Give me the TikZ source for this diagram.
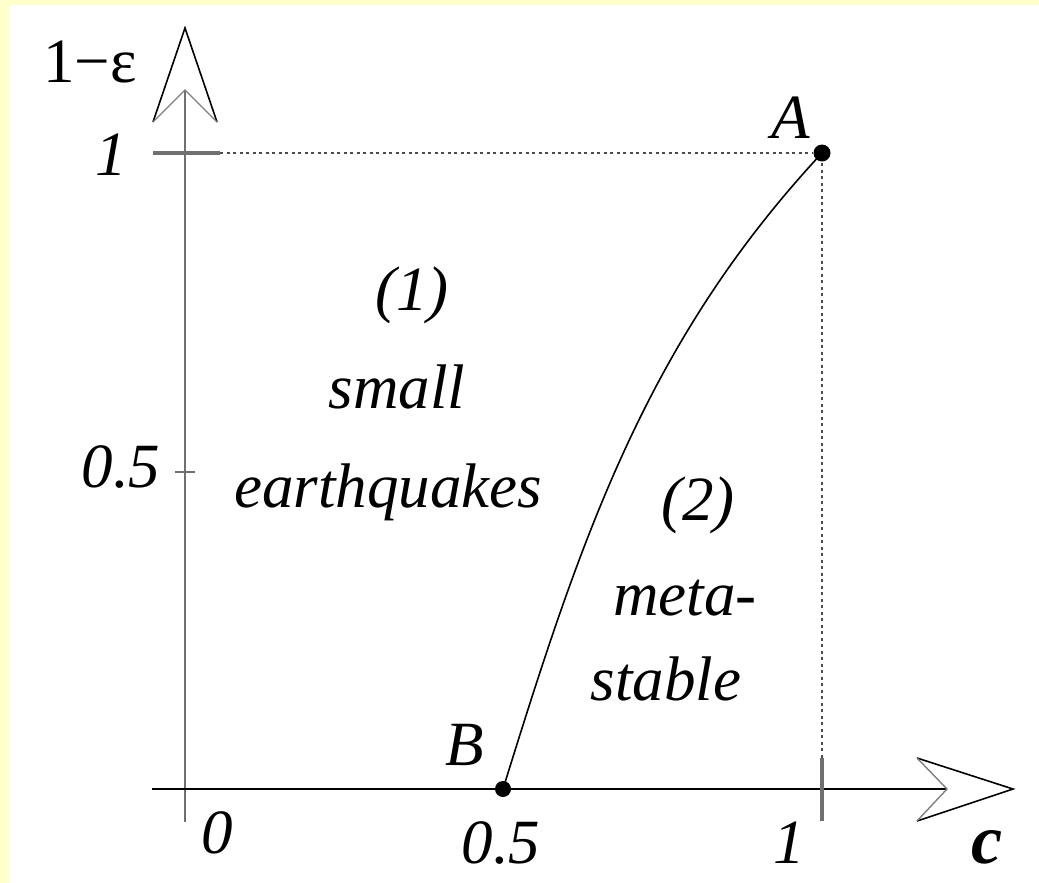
\documentclass[tikz,border=0pt]{standalone}
\usepackage{fontspec}
\setmainfont{Liberation Serif}
\definecolor{bgyellow}{HTML}{FFFFCC}
\definecolor{axisgray}{HTML}{707070}
\tikzset{
  lbl/.style={inner sep=0pt, anchor=base, font=\fontsize{63}{70}\selectfont\itshape},
  uplbl/.style={inner sep=0pt, anchor=base, font=\fontsize{63}{70}\selectfont},
  tickmark/.style={draw=axisgray, line width=3.5pt},
  guide/.style={draw=black!70, line width=2.6pt, dash pattern=on 3pt off 3.5pt},
  arrowouter/.style={draw=black, line width=1.6pt, line join=miter},
  arrowinner/.style={draw=gray, line width=1.4pt},
  dotpt/.style={circle, fill=black, inner sep=0pt, minimum size=17pt},
}
\begin{document}
\begin{tikzpicture}[x=1pt, y=-1pt]
\useasboundingbox (0,0) rectangle (1039,883);
\fill[bgyellow] (0,0) rectangle (1039,883);
\fill[white] (10,5) rectangle (1039,883);

% coordinates
\coordinate (ybot) at (185,822);
\coordinate (ynotch) at (185,90);
\coordinate (ytip) at (185,28);
\coordinate (ybl) at (153,122);
\coordinate (ybr) at (217,122);
\coordinate (xleft) at (152,789);
\coordinate (xnotch) at (947,789);
\coordinate (xtip) at (1013,789);
\coordinate (xbt) at (917,758);
\coordinate (xbb) at (917,821);
\coordinate (t1a) at (153,153);
\coordinate (t1b) at (220,153);
\coordinate (t5a) at (175,472);
\coordinate (t5b) at (195,472);
\coordinate (tx1a) at (822,758);
\coordinate (tx1b) at (822,821);
\coordinate (hend) at (812,153);
\coordinate (vtop) at (822,163);

% axes
\draw[axisgray, line width=1.4pt] (ybot) -- (ynotch);
\draw[black, line width=2.2pt] (xleft) -- (xnotch);
\draw[arrowouter] (ybl) -- (ytip) -- (ybr);
\draw[arrowinner] (ybl) -- (ynotch) -- (ybr);
\draw[arrowouter] (xbt) -- (xtip) -- (xbb);
\draw[arrowinner] (xbt) -- (xnotch) -- (xbb);

% ticks
\draw[tickmark] (t1a) -- (t1b);
\draw[tickmark, line width=2.5pt] (t5a) -- (t5b);
\draw[tickmark] (tx1a) -- (tx1b);

% guides
\draw[guide] (t1b) -- (hend);
\draw[guide] (vtop) -- (tx1a);

% points
\node[dotpt] (A) at (822,153) {};
\node[dotpt, minimum size=16pt] (B) at (503,789) {};

% curve
\draw[black, line width=1.6pt] (B.center) .. controls (580,541) and (645,343) .. (A.center);

% labels
\node[uplbl] (ylab) at (90,82) {1\char"2212\char"03B5};
\node[lbl] (y1) at (111,175) {1};
\node[lbl] (y05) at (121,487) {0.5};
\node[lbl] (x0) at (217,853) {0};
\node[lbl] (x05) at (501,863) {0.5};
\node[lbl] (x1) at (789,863) {1};
\node[inner sep=0pt, anchor=base, font=\fontsize{70}{76}\selectfont\bfseries\itshape] (xlab) at (987,863) {c};
\node[lbl] (Alab) at (791,138) {A};
\node[lbl] (Blab) at (465,765) {B};
\node[lbl] (r1) at (412,310) {(1)};
\node[lbl] (r1a) at (397,408) {small};
\node[lbl] (r1b) at (388,507) {earthquakes};
\node[lbl] (r2) at (698,520) {(2)};
\node[lbl] (r2a) at (685,615) {meta-};
\node[lbl] (r2b) at (666,700) {stable};
\end{tikzpicture}
\end{document}
